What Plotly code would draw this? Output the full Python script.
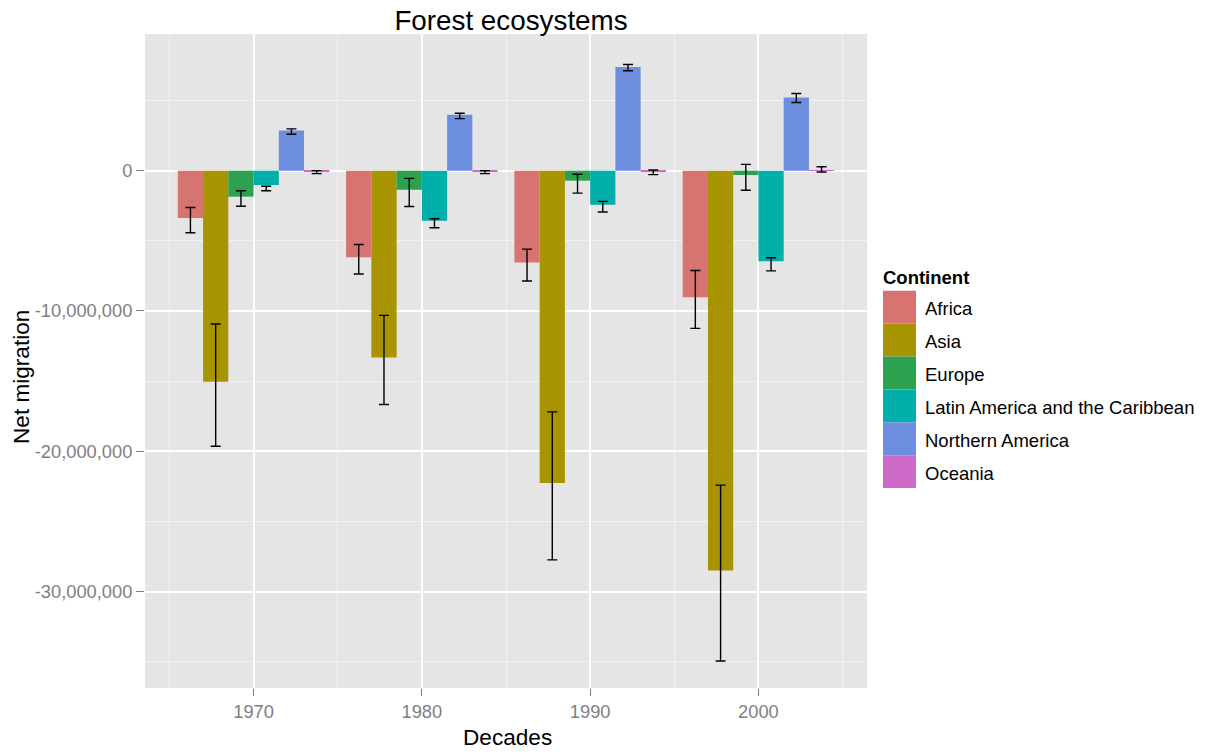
import plotly.graph_objects as go

# Net migration by continent per decade, with error ranges
decades = [1970, 1980, 1990, 2000]
continents = ["Africa", "Asia", "Europe", "Latin America and the Caribbean",
              "Northern America", "Oceania"]
colors = ["#D77371", "#A89400", "#2CA14F", "#00AEAA", "#6D8EDF", "#CE6BC9"]

africa = [-3380000, -6170000, -6550000, -9020000]
africa_lo = [-4430000, -7360000, -7860000, -11240000]
africa_hi = [-2620000, -5260000, -5590000, -7120000]

asia = [-15050000, -13310000, -22260000, -28500000]
asia_lo = [-19640000, -16660000, -27740000, -34950000]
asia_hi = [-10930000, -10310000, -17190000, -22410000]

europe = [-1850000, -1360000, -710000, -310000]
europe_lo = [-2540000, -2550000, -1600000, -1400000]
europe_hi = [-1430000, -550000, -260000, 450000]

latin = [-1020000, -3570000, -2430000, -6450000]
latin_lo = [-1430000, -4070000, -2950000, -7140000]
latin_hi = [-1110000, -3430000, -2190000, -6210000]

north_america = [2860000, 3980000, 7380000, 5210000]
north_america_lo = [2590000, 3710000, 7120000, 4860000]
north_america_hi = [2980000, 4090000, 7570000, 5500000]

oceania = [-30000, -30000, -100000, 30000]
oceania_lo = [-210000, -210000, -280000, -90000]
oceania_hi = [0, 0, 50000, 280000]

series = [
    (africa, africa_lo, africa_hi),
    (asia, asia_lo, asia_hi),
    (europe, europe_lo, europe_hi),
    (latin, latin_lo, latin_hi),
    (north_america, north_america_lo, north_america_hi),
    (oceania, oceania_lo, oceania_hi),
]

y_tickvals = [0, -10000000, -20000000, -30000000]
y_ticktext = ["0", "-10,000,000", "-20,000,000", "-30,000,000"]
y_minor = [5000000, -5000000, -15000000, -25000000, -35000000]
x_minor = [1965, 1975, 1985, 1995, 2005]

FONT = "Liberation Sans, Arial, sans-serif"
W, H = 1209, 754
PL, PR, PT, PB = 145, 867, 34, 688  # panel edges in pixels


def px_x(px):
    return (px - PL) / (PR - PL)


def px_y(py):
    return (PB - py) / (PB - PT)


fig = go.Figure()
for name, color, (vals, lo, hi) in zip(continents, colors, series):
    fig.add_trace(go.Bar(
        x=decades, y=vals, name=name,
        marker=dict(color=color, line=dict(width=0)),
        error_y=dict(
            type="data", symmetric=False,
            array=[h - v for h, v in zip(hi, vals)],
            arrayminus=[v - l for v, l in zip(vals, lo)],
            color="black", thickness=1.4, width=5,
        ),
        showlegend=False,
    ))

# Legend drawn as colour keys with labels
shapes = []
annotations = []
key_top = 290.7
key_h = 32.9
for i, (name, color) in enumerate(zip(continents, colors)):
    top = key_top + i * key_h
    shapes.append(dict(
        type="rect", xref="paper", yref="paper",
        x0=px_x(883), x1=px_x(916), y0=px_y(top + key_h), y1=px_y(top),
        fillcolor=color, line=dict(width=0), layer="above",
    ))
    annotations.append(dict(
        text=name, xref="paper", yref="paper",
        x=px_x(923), y=px_y(top + key_h / 2 + 1.5),
        xanchor="left", yanchor="middle", showarrow=False,
        font=dict(family=FONT, size=18.5, color="black"),
    ))
annotations.append(dict(
    text="<b>Continent</b>", xref="paper", yref="paper",
    x=px_x(881), y=px_y(277), xanchor="left", yanchor="middle",
    showarrow=False, font=dict(family=FONT, size=18.5, color="black"),
))
annotations.append(dict(
    text="Net migration", xref="paper", yref="paper",
    x=px_x(22), y=px_y(377), xanchor="center", yanchor="middle",
    textangle=-90, showarrow=False,
    font=dict(family=FONT, size=22.6, color="black"),
))
annotations.append(dict(
    text="Decades", xref="paper", yref="paper",
    x=px_x(507), y=px_y(737), xanchor="center", yanchor="middle",
    showarrow=False, font=dict(family=FONT, size=22.6, color="black"),
))

fig.update_layout(
    width=W, height=H,
    margin=dict(l=PL, r=W - PR, t=PT, b=H - PB, pad=0),
    paper_bgcolor="white", plot_bgcolor="#E5E5E5",
    barmode="group", bargap=0.1, bargroupgap=0,
    title=dict(text="Forest ecosystems", x=511 / W,
               xanchor="center", y=1 - 20 / H, yanchor="middle",
               font=dict(family=FONT, size=27.8, color="black")),
    shapes=shapes, annotations=annotations,
    font=dict(family=FONT),
)
fig.update_xaxes(
    range=[1963.55, 2006.45], tickmode="array", tickvals=decades,
    ticktext=[str(d) for d in decades],
    ticks="outside", ticklen=7, tickwidth=1.4, tickcolor="#7F7F7F",
    tickfont=dict(family=FONT, size=18.3, color="#7F7F7F"),
    showgrid=True, gridcolor="white", gridwidth=2,
    minor=dict(tickmode="array", tickvals=x_minor, showgrid=True,
               gridcolor="#F2F2F2", gridwidth=1, ticks=""),
    zeroline=False, showline=False,
)
fig.update_yaxes(
    range=[-36870000, 9740000], tickmode="array", tickvals=y_tickvals,
    ticktext=y_ticktext,
    ticks="outside", ticklen=8, tickwidth=1.4, tickcolor="#7F7F7F",
    tickfont=dict(family=FONT, size=18.3, color="#7F7F7F"),
    showgrid=True, gridcolor="white", gridwidth=2,
    minor=dict(tickmode="array", tickvals=y_minor, showgrid=True,
               gridcolor="#F2F2F2", gridwidth=1, ticks=""),
    zeroline=False, showline=False,
)

fig.write_html("out.html")
